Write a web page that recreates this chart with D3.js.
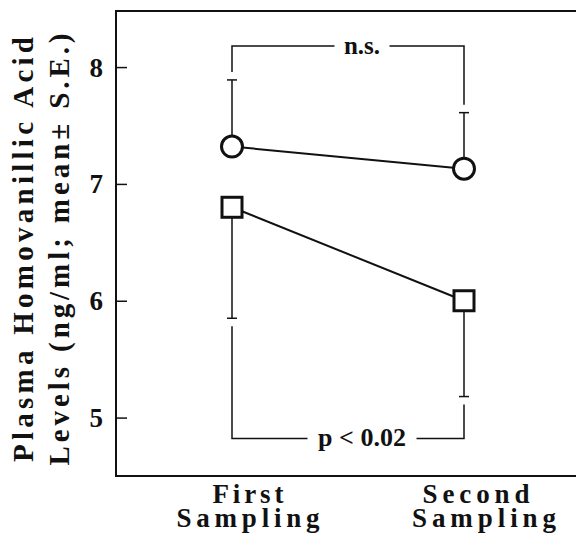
<!DOCTYPE html>
<html>
<head>
<meta charset="utf-8">
<script src="https://cdn.jsdelivr.net/npm/d3@7"></script>
<style>
  body { margin: 0; background: #fff; }
  text { font-family: "Liberation Serif", "Times New Roman", serif; font-weight: bold; fill: #111; }
</style>
</head>
<body>
<div id="chart"></div>
<script>
// Chart data
var samplings = ["First", "Second"];
var circleMeans = [7.32, 7.13];
var circleUpper = [7.89, 7.61];   // mean + S.E.
var squareMeans = [6.80, 6.00];
var squareLower = [5.85, 5.18];   // mean - S.E.
var yTicks = [5, 6, 7, 8];
var nsLevel = 8.18;
var pLevel = 4.82;

// Canvas
var width = 576, height = 540;
var plotLeft = 116, plotTop = 11, plotBottom = 476, plotRight = 576;

var svg = d3.select("#chart").append("svg")
    .attr("width", width)
    .attr("height", height);

// Scales
var x = d3.scalePoint().domain(samplings).range([232, 464]);
var y = d3.scaleLinear().domain([4.5, 8.48]).range([plotBottom, plotTop]);

// Frame: left, top and bottom lines
svg.append("path")
    .attr("d", `M${plotRight},${plotTop}H${plotLeft}V${plotBottom}H${plotRight}`)
    .attr("fill", "none")
    .attr("stroke", "#111")
    .attr("stroke-width", 2);

// Y ticks pointing inward
var yAxis = d3.axisRight(y).tickValues(yTicks).tickSize(11).tickFormat("");
svg.append("g")
    .attr("transform", `translate(${plotLeft},0)`)
    .call(yAxis)
    .call(g => g.select(".domain").remove())
    .call(g => g.selectAll(".tick line").attr("stroke", "#111").attr("stroke-width", 1.5));

svg.selectAll(".ylab")
    .data(yTicks)
    .join("text")
    .attr("class", "ylab")
    .attr("x", 103)
    .attr("y", d => y(d))
    .attr("dy", "0.35em")
    .attr("text-anchor", "end")
    .attr("font-size", 27)
    .text(d => d);

// Y axis title (two rotated lines)
var yTitle = [
    { text: "Plasma Homovanillic Acid", x: 33, len: 425 },
    { text: "Levels (ng/ml; mean\u00b1 S.E.)", x: 69, len: 432 }
];
svg.selectAll(".ytitle")
    .data(yTitle)
    .join("text")
    .attr("class", "ytitle")
    .attr("transform", d => `translate(${d.x},${(462 + 37) / 2}) rotate(-90)`)
    .attr("text-anchor", "middle")
    .attr("font-size", 29)
    .attr("textLength", d => d.len)
    .attr("lengthAdjust", "spacing")
    .text(d => d.text);

// X labels
var xLabels = [
    { cat: "First", line: "First", off: 16, row: 0, len: 71 },
    { cat: "First", line: "Sampling", off: 16, row: 1, len: 143 },
    { cat: "Second", line: "Second", off: 12, row: 0, len: 107 },
    { cat: "Second", line: "Sampling", off: 20, row: 1, len: 144 }
];
svg.selectAll(".xlab")
    .data(xLabels)
    .join("text")
    .attr("class", "xlab")
    .attr("x", d => x(d.cat) + d.off)
    .attr("y", d => 503 + d.row * 24)
    .attr("text-anchor", "middle")
    .attr("font-size", 27)
    .attr("textLength", d => d.len)
    .attr("lengthAdjust", "spacing")
    .text(d => d.line);

var thin = 1.5, gap = 8, capW = 5;

// Error bars
function errorBars(means, ends, cls) {
    svg.selectAll("." + cls + "-bar")
        .data(samplings)
        .join("line")
        .attr("class", cls + "-bar")
        .attr("x1", d => x(d)).attr("x2", d => x(d))
        .attr("y1", (d, i) => y(means[i])).attr("y2", (d, i) => y(ends[i]))
        .attr("stroke", "#111").attr("stroke-width", thin);
    svg.selectAll("." + cls + "-cap")
        .data(samplings)
        .join("line")
        .attr("class", cls + "-cap")
        .attr("x1", d => x(d) - capW).attr("x2", d => x(d) + capW)
        .attr("y1", (d, i) => y(ends[i])).attr("y2", (d, i) => y(ends[i]))
        .attr("stroke", "#111").attr("stroke-width", thin);
}
errorBars(circleMeans, circleUpper, "c");
errorBars(squareMeans, squareLower, "s");

// Connecting lines
var line = d3.line().x((d, i) => x(samplings[i])).y(d => y(d));
svg.append("path").datum(circleMeans).attr("d", line)
    .attr("fill", "none").attr("stroke", "#111").attr("stroke-width", 2);
svg.append("path").datum(squareMeans).attr("d", line)
    .attr("fill", "none").attr("stroke", "#111").attr("stroke-width", 2);

// Markers
svg.selectAll(".circ")
    .data(circleMeans)
    .join("circle")
    .attr("class", "circ")
    .attr("cx", (d, i) => x(samplings[i]))
    .attr("cy", d => y(d))
    .attr("r", 10.5)
    .attr("fill", "#fff")
    .attr("stroke", "#111")
    .attr("stroke-width", 3);

svg.selectAll(".sq")
    .data(squareMeans)
    .join("rect")
    .attr("class", "sq")
    .attr("x", (d, i) => x(samplings[i]) - 10)
    .attr("y", d => y(d) - 10)
    .attr("width", 20)
    .attr("height", 20)
    .attr("fill", "#fff")
    .attr("stroke", "#111")
    .attr("stroke-width", 3);

// Significance brackets
function bracket(level, ends, dir, label, textW, fontSize) {
    var yl = y(level);
    var x0 = x(samplings[0]), x1 = x(samplings[1]);
    var mid = (x0 + x1) / 2 + 14;
    var half = textW / 2 + 9;
    var y0 = y(ends[0]) + dir * gap;
    var y1 = y(ends[1]) + dir * gap;
    svg.append("path")
        .attr("d", `M${mid - half},${yl}H${x0}V${y0}M${mid + half},${yl}H${x1}V${y1}`)
        .attr("fill", "none").attr("stroke", "#111").attr("stroke-width", thin);
    svg.append("text")
        .attr("x", mid)
        .attr("y", yl)
        .attr("dy", "0.3em")
        .attr("text-anchor", "middle")
        .attr("font-size", fontSize)
        .text(label);
}
bracket(nsLevel, circleUpper, -1, "n.s.", 37, 25);
bracket(pLevel, squareLower, 1, "p < 0.02", 91, 26);
</script>
</body>
</html>
